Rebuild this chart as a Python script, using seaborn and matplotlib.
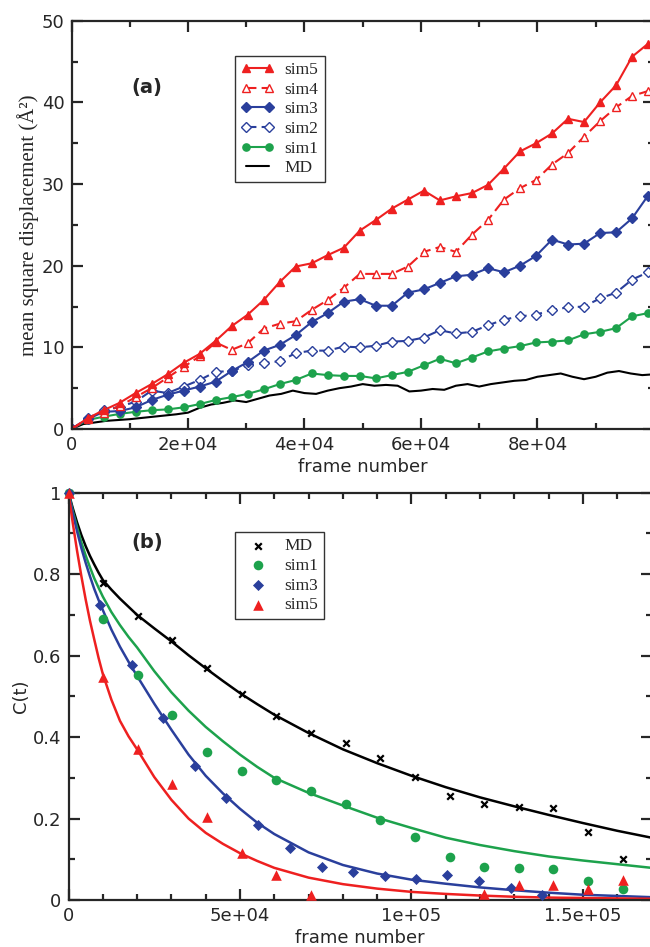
import matplotlib
matplotlib.use("Agg")
import matplotlib.pyplot as plt
from matplotlib.ticker import MultipleLocator, FuncFormatter
import seaborn as sns

# ------------------------------------------------------------
# Panel (a): mean square displacement vs frame
# ------------------------------------------------------------
frames_sim = [0, 2750, 5500, 8250, 11000, 13750, 16500, 19250, 22000, 24750,
              27500, 30250, 33000, 35750, 38500, 41250, 44000, 46750, 49500,
              52250, 55000, 57750, 60500, 63250, 66000, 68750, 71500, 74250,
              77000, 79750, 82500, 85250, 88000, 90750, 93500, 96250, 99000]

msd_sim5 = [0, 1.3, 2.3, 3.2, 4.4, 5.5, 6.7, 8.1, 9.2, 10.8, 12.6, 14.0, 15.8,
            18.0, 19.9, 20.3, 21.3, 22.2, 24.3, 25.6, 27.0, 28.1, 29.2, 28.0,
            28.5, 28.9, 29.9, 31.9, 34.0, 35.0, 36.2, 38.0, 37.6, 40.0, 42.1,
            45.6, 47.2]
msd_sim4 = [0, 1.2, 2.0, 2.8, 3.9, 5.0, 6.3, 7.6, 8.9, 10.6, 9.7, 10.5, 12.3,
            12.9, 13.2, 14.6, 15.8, 17.3, 19.0, 19.0, 19.0, 19.9, 21.7, 22.3,
            21.7, 23.8, 25.6, 28.1, 29.5, 30.5, 32.4, 33.8, 35.8, 37.7, 39.4,
            40.8, 41.4]
msd_sim3 = [0, 1.2, 2.1, 2.2, 2.65, 3.55, 4.2, 4.7, 5.2, 5.8, 7.1, 8.2, 9.6,
            10.3, 11.5, 13.1, 14.2, 15.6, 15.9, 15.1, 15.1, 16.7, 17.1, 17.9,
            18.7, 18.9, 19.7, 19.2, 20.0, 21.2, 23.2, 22.6, 22.7, 24.0, 24.1,
            25.8, 28.6]
msd_sim2 = [0, 1.3, 2.3, 2.7, 3.35, 4.7, 4.4, 5.2, 6.0, 7.0, 7.1, 7.8, 8.1,
            8.3, 9.3, 9.6, 9.6, 10.1, 10.0, 10.2, 10.7, 10.8, 11.2, 12.1, 11.7,
            11.9, 12.7, 13.4, 13.8, 14.0, 14.6, 14.9, 15.0, 16.0, 16.7, 18.3,
            19.2]
msd_sim1 = [0, 1.1, 1.5, 1.85, 2.1, 2.3, 2.4, 2.65, 3.05, 3.55, 3.9, 4.3, 4.85,
            5.5, 6.0, 6.8, 6.6, 6.5, 6.5, 6.2, 6.6, 7.0, 7.8, 8.6, 8.05, 8.75,
            9.5, 9.85, 10.15, 10.6, 10.7, 10.85, 11.6, 11.9, 12.35, 13.8, 14.2]

frames_md = [0, 2000, 4000, 6000, 8000, 10000, 12000, 14000, 16000, 18000,
             20000, 22000, 24000, 26000, 28000, 30000, 32000, 34000, 36000,
             38000, 40000, 42000, 44000, 46000, 48000, 50000, 52000, 54000,
             56000, 58000, 60000, 62000, 64000, 66000, 68000, 70000, 72000,
             74000, 76000, 78000, 80000, 82000, 84000, 86000, 88000, 90000,
             92000, 94000, 96000, 98000, 100000]
msd_md = [0, 0.6, 0.8, 1.0, 1.1, 1.2, 1.35, 1.5, 1.65, 1.8, 2.0, 2.6, 3.0, 3.2,
          3.5, 3.3, 3.7, 4.1, 4.3, 4.7, 4.4, 4.3, 4.7, 5.0, 5.2, 5.5, 5.3, 5.4,
          5.3, 4.6, 4.7, 4.9, 4.8, 5.3, 5.5, 5.2, 5.5, 5.7, 5.9, 6.0, 6.4, 6.6,
          6.8, 6.4, 6.1, 6.4, 6.9, 7.1, 6.8, 6.6, 6.7]

# ------------------------------------------------------------
# Panel (b): C(t) points and fitted curves
# ------------------------------------------------------------
pts_x = [0, 10100, 20200, 30300, 40400, 50500, 60600, 70700, 80800, 90900,
         101000, 111100, 121200, 131300, 141400, 151500, 161600]
c_md = [1, 0.779, 0.698, 0.638, 0.569, 0.506, 0.452, 0.409, 0.385, 0.348,
        0.303, 0.256, 0.236, 0.229, 0.225, 0.166, 0.101]
c_sim1 = [1, 0.691, 0.552, 0.454, 0.363, 0.317, 0.295, 0.268, 0.236, 0.196,
          0.155, 0.105, 0.082, 0.078, 0.075, 0.046, 0.026]
sim3_x = [0, 9070, 18500, 27550, 36900, 46000, 55300, 64700, 73800, 82900,
          92200, 101300, 110400, 119700, 129000, 138000]
c_sim3 = [1, 0.724, 0.577, 0.448, 0.329, 0.250, 0.184, 0.127, 0.080, 0.070,
          0.060, 0.052, 0.061, 0.047, 0.029, 0.012]
sim5_x = [0, 10100, 20200, 30300, 40400, 50500, 60600, 70700, 121200, 131300,
          141400, 151500, 161600]
c_sim5 = [1, 0.547, 0.372, 0.284, 0.203, 0.116, 0.061, 0.012, 0.015, 0.037,
          0.038, 0.027, 0.049]

fit_x = [0, 1250, 2500, 3750, 5000, 6250, 7500, 8750, 10000, 12500, 15000,
         17500, 20000, 25000, 30000, 35000, 40000, 45000, 50000, 55000, 60000,
         70000, 80000, 90000, 100000, 110000, 120000, 130000, 140000, 150000,
         160000, 170000]
fit_md = [1, 0.962, 0.927, 0.896, 0.869, 0.845, 0.824, 0.804, 0.786, 0.762,
          0.74, 0.72, 0.70, 0.667, 0.635, 0.601, 0.569, 0.538, 0.508, 0.481,
          0.455, 0.41, 0.37, 0.336, 0.305, 0.277, 0.252, 0.23, 0.209, 0.189,
          0.17, 0.153]
fit_sim1 = [1, 0.955, 0.915, 0.878, 0.846, 0.817, 0.79, 0.767, 0.745, 0.707,
            0.675, 0.646, 0.62, 0.562, 0.51, 0.465, 0.425, 0.39, 0.357, 0.327,
            0.30, 0.263, 0.232, 0.202, 0.177, 0.153, 0.135, 0.12, 0.107,
            0.097, 0.088, 0.079]
fit_sim3 = [1, 0.95, 0.905, 0.864, 0.828, 0.795, 0.764, 0.737, 0.712, 0.664,
            0.622, 0.585, 0.55, 0.482, 0.418, 0.357, 0.305, 0.262, 0.224,
            0.19, 0.162, 0.117, 0.086, 0.065, 0.05, 0.04, 0.031, 0.024, 0.018,
            0.013, 0.01, 0.007]
fit_sim5 = [1, 0.925, 0.857, 0.795, 0.738, 0.686, 0.64, 0.595, 0.555, 0.492,
            0.44, 0.402, 0.37, 0.302, 0.246, 0.2, 0.165, 0.138, 0.115, 0.096,
            0.079, 0.055, 0.039, 0.028, 0.02, 0.015, 0.011, 0.008, 0.006,
            0.005, 0.004, 0.003]

RED = "#ee2020"
BLUE = "#2a3f9c"
GREEN = "#1da24c"
BLACK = "#000000"
SERIF = ["Liberation Serif", "DejaVu Serif"]


def sci_fmt(v, pos):
    if v == 0:
        return "0"
    m, e = f"{v:.1e}".split("e")
    m = m.rstrip("0").rstrip(".")
    return f"{m}e{e}"


def style_axes(ax, xmax):
    for sp in ax.spines.values():
        sp.set_linewidth(1.6)
        sp.set_visible(True)
    ax.tick_params(which="both", direction="in", top=True, right=True,
                   width=1.6, labelsize=13, pad=5)
    ax.tick_params(which="major", length=8)
    ax.tick_params(which="minor", length=4.5)
    # the right edge is cut by the figure, so no label there
    ax.xaxis.set_major_formatter(
        FuncFormatter(lambda v, p: "" if v >= xmax else sci_fmt(v, p)))
    ax.yaxis.set_major_formatter(FuncFormatter(lambda v, p: f"{v:g}"))


sns.set_style("ticks")
plt.rcParams["font.family"] = ["DejaVu Sans"]

fig = plt.figure(figsize=(6.5, 9.47), dpi=100)

# ------------------------------------------------------------
# (a)
# ------------------------------------------------------------
ax1 = fig.add_axes([0.110, 0.547, 0.896, 0.431])

series_a = [
    ("MD", frames_md, msd_md, BLACK, None, "-", True),
    ("sim1", frames_sim, msd_sim1, GREEN, "o", "-", True),
    ("sim2", frames_sim, msd_sim2, BLUE, "D", (0, (5, 2.5)), False),
    ("sim3", frames_sim, msd_sim3, BLUE, "D", "-", True),
    ("sim4", frames_sim, msd_sim4, RED, "^", (0, (5, 2.5)), False),
    ("sim5", frames_sim, msd_sim5, RED, "^", "-", True),
]
marker_size = {"o": 5.2, "D": 4.8, "^": 5.6}
handles_a = {}
for name, xs, ys, col, mk, ls, filled in series_a:
    kw = dict(color=col, linewidth=1.5, linestyle=ls)
    if mk is not None:
        kw.update(marker=mk, markersize=marker_size[mk],
                  markeredgecolor=col, markeredgewidth=1.0,
                  markerfacecolor=col if filled else "white")
    sns.lineplot(x=xs, y=ys, ax=ax1, label=name, legend=False, **kw)
    handles_a[name] = ax1.get_lines()[-1]

ax1.set_xlim(0, 100000)
ax1.set_ylim(0, 50)
ax1.xaxis.set_major_locator(MultipleLocator(20000))
ax1.xaxis.set_minor_locator(MultipleLocator(10000))
ax1.yaxis.set_major_locator(MultipleLocator(10))
ax1.yaxis.set_minor_locator(MultipleLocator(5))
style_axes(ax1, 100000)
ax1.set_xlabel("frame number", fontsize=13, labelpad=3)
ax1.set_ylabel("mean square displacement (Å²)", fontsize=15,
               family=SERIF, labelpad=2)
ax1.text(0.129, 0.836, "(a)", transform=ax1.transAxes, fontsize=14,
         fontweight="bold", ha="center", va="center")

order_a = ["sim5", "sim4", "sim3", "sim2", "sim1", "MD"]
leg = ax1.legend([handles_a[n] for n in order_a], order_a,
                 loc="upper left", bbox_to_anchor=(0.281, 0.914),
                 borderaxespad=0, numpoints=2, handlelength=1.9,
                 handletextpad=0.6, labelspacing=0.2, borderpad=0.35,
                 fancybox=False, framealpha=1, edgecolor="#333333",
                 prop={"family": SERIF, "size": 12.5})
leg.get_frame().set_linewidth(1.0)

# ------------------------------------------------------------
# (b)
# ------------------------------------------------------------
ax2 = fig.add_axes([0.1054, 0.0496, 0.897, 0.4301])

for ys, col in [(fit_md, BLACK), (fit_sim1, GREEN),
                (fit_sim3, BLUE), (fit_sim5, RED)]:
    sns.lineplot(x=fit_x, y=ys, ax=ax2, color=col, linewidth=1.8,
                 legend=False)

pts_b = [
    ("MD", pts_x, c_md, BLACK, "x", 22),
    ("sim1", pts_x, c_sim1, GREEN, "o", 48),
    ("sim3", sim3_x, c_sim3, BLUE, "D", 32),
    ("sim5", sim5_x, c_sim5, RED, "^", 58),
]
handles_b = []
for name, xs, ys, col, mk, size in pts_b:
    lw = 1.6 if mk == "x" else 0
    sns.scatterplot(x=xs, y=ys, ax=ax2, color=col, marker=mk, s=size,
                    linewidth=lw, clip_on=False, zorder=4, legend=False)
    handles_b.append(ax2.collections[-1])

ax2.set_xlim(0, 170000)
ax2.set_ylim(0, 1)
ax2.xaxis.set_major_locator(MultipleLocator(50000))
ax2.xaxis.set_minor_locator(MultipleLocator(10000))
ax2.yaxis.set_major_locator(MultipleLocator(0.2))
ax2.yaxis.set_minor_locator(MultipleLocator(0.1))
style_axes(ax2, 170000)
ax2.set_xlabel("frame number", fontsize=13, labelpad=3)
ax2.set_ylabel("C(t)", fontsize=13, labelpad=2)
ax2.text(0.135, 0.877, "(b)", transform=ax2.transAxes, fontsize=14,
         fontweight="bold", ha="center", va="center")

leg2 = ax2.legend(handles_b, [p[0] for p in pts_b], loc="upper left",
                  bbox_to_anchor=(0.2855, 0.9035), borderaxespad=0,
                  scatterpoints=1, handlelength=1.9, handletextpad=0.6,
                  labelspacing=0.2, borderpad=0.35, fancybox=False,
                  framealpha=1, edgecolor="#333333",
                  prop={"family": SERIF, "size": 12.5})
leg2.get_frame().set_linewidth(1.0)

fig.savefig("out.png", dpi=100)
